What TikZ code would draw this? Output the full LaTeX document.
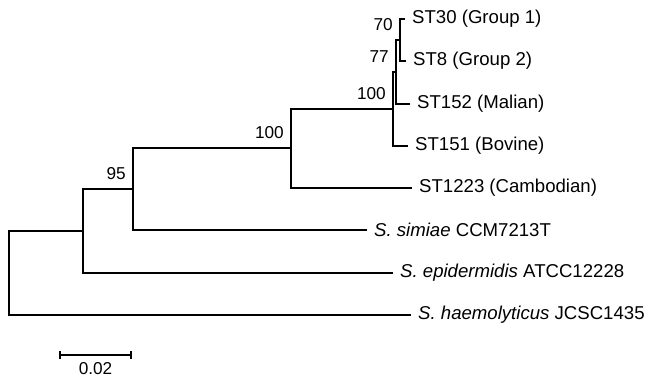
\documentclass[tikz,border=0pt]{standalone}
\usepackage{fontspec}
\setmainfont{Liberation Sans}
\usetikzlibrary{arrows.meta}
\tikzset{
  branch/.style={line width=2.5pt, line join=miter},
  leaf/.style={anchor=west, inner xsep=7pt, inner ysep=0pt, font=\fontsize{18.6}{22}\selectfont},
  boot/.style={anchor=south east, inner sep=0pt, xshift=-7pt, yshift=9pt, font=\fontsize{17.2}{20}\selectfont},
}
\begin{document}
\begin{tikzpicture}[x=1pt, y=-1pt]
            \useasboundingbox (0,0) rectangle (652,378);
            % leaves
            \node[leaf] (st30) at (405,19) {ST30 (Group 1)};
            \node[leaf] (st8) at (406,61) {ST8 (Group 2)};
            \node[leaf] (st152) at (410,104) {ST152 (Malian)};
            \node[leaf] (st151) at (408,146) {ST151 (Bovine)};
            \node[leaf] (st1223) at (412,188) {ST1223 (Cambodian)};
            \node[leaf] (simiae) at (367,230) {\textit{S. simiae} CCM7213T};
            \node[leaf] (epid) at (393,273) {\textit{S. epidermidis} ATCC12228};
            \node[leaf] (haemo) at (411,315) {\textit{S. haemolyticus} JCSC1435};
            % inner nodes
            \coordinate (F) at (400,40);
            \coordinate (E) at (396,72);
            \coordinate (D) at (393,109);
            \coordinate (C) at (291,148);
            \coordinate (B) at (133,189);
            \coordinate (A) at (83,231);
            \coordinate (root) at (9,273);
            \draw [branch] (st30.west) -| (F) |- (st8.west);
            \draw [branch] (F) -| (E) |- (st152.west);
            \draw [branch] (E) -| (D) |- (st151.west);
            \draw [branch] (D) -| (C) |- (st1223.west);
            \draw [branch] (C) -| (B) |- (simiae.west);
            \draw [branch] (B) -| (A) |- (epid.west);
            \draw [branch] (A) -| (root) |- (haemo.west);
            % bootstrap values
            \node[boot] (bF) at (F) {70};
            \node[boot] (bE) at (E) {77};
            \node[boot] (bD) at (D) {100};
            \node[boot] (bC) at (C) {100};
            \node[boot] (bB) at (B) {95};
            % scale
            \coordinate (s0) at (59,355);
            \coordinate (s1) at (132,355);
            \draw [line width=2.3pt, {Bar[width=8pt,line width=1.8pt]}-{Bar[width=8pt,line width=1.8pt]}] (s0) -- (s1)
                node[midway, below=6pt, inner sep=0pt, font=\fontsize{17.2}{20}\selectfont] (scale) {0.02};
        \end{tikzpicture}
\end{document}
